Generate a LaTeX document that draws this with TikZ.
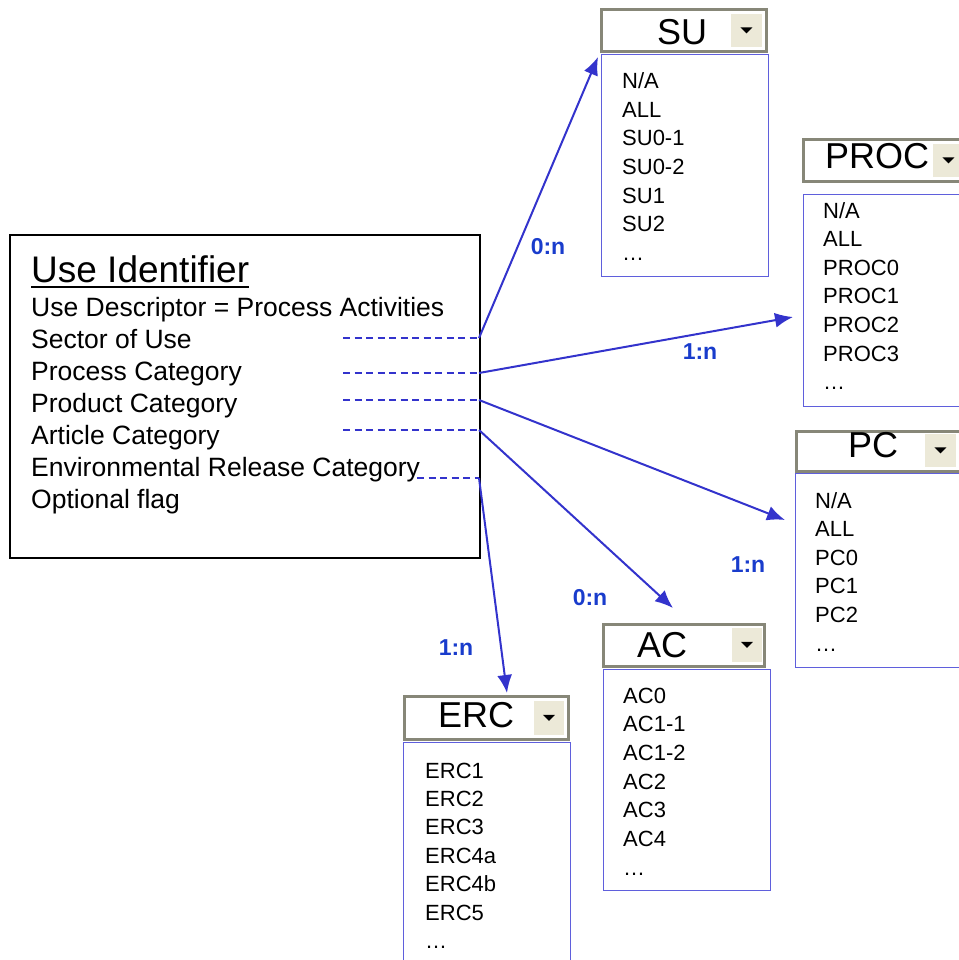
\documentclass[tikz,border=0pt]{standalone}
\usepackage{fontspec}
\setmainfont{Liberation Sans}
\usetikzlibrary{arrows.meta}
\definecolor{arrblue}{RGB}{51,51,204}
\definecolor{lblblue}{RGB}{25,60,204}
\definecolor{listblue}{RGB}{95,95,220}
\definecolor{hdrgray}{RGB}{135,135,120}
\definecolor{btnfill}{RGB}{236,233,216}
\begin{document}
\begin{tikzpicture}[x=1pt,y=-1pt,
  mainbox/.style={draw=black,line width=1.6pt,anchor=north west,inner sep=0},
  listbox/.style={draw=listblue,line width=1.2pt,fill=white,anchor=north west,inner sep=0},
  hdrbox/.style={draw=hdrgray,line width=3pt,fill=white,anchor=north west,inner sep=0},
  btnbox/.style={draw=white,line width=0.8pt,fill=btnfill,anchor=north west,inner sep=0},
  itemtxt/.style={font=\fontsize{22}{26}\selectfont,anchor=base west,inner sep=0},
  hdrtxt/.style={font=\fontsize{36}{40}\selectfont,anchor=base,inner sep=0},
  rowtxt/.style={font=\fontsize{26.5}{30}\selectfont,anchor=base west,inner sep=0},
  titletxt/.style={font=\fontsize{37}{42}\selectfont,anchor=base west,inner sep=0},
  card/.style={font=\bfseries\fontsize{23}{26}\selectfont,text=lblblue,inner sep=0},
  conn/.style={draw=arrblue,line width=2pt,-{Latex[length=18pt,width=15pt]}},
  dashlink/.style={draw=arrblue,line width=1.5pt,dash pattern=on 7pt off 4.5pt}
]
\useasboundingbox (0,0) rectangle (958,960);

% main box
\node[mainbox,minimum width=470pt,minimum height=323pt] (main) at (9,234) {};
\node[titletxt] (title) at (31,282) {Use Identifier};
\draw[line width=2pt] ([yshift=-5pt]title.base west) -- ([yshift=-5pt]title.base east);
\node[rowtxt] (r1) at (31,316) {Use Descriptor = Process Activities};
\node[rowtxt] (r2) at (31,348) {Sector of Use};
\node[rowtxt] (r3) at (31,380) {Process Category};
\node[rowtxt] (r4) at (31,412) {Product Category};
\node[rowtxt] (r5) at (31,444) {Article Category};
\node[rowtxt] (r6) at (31,476) {Environmental Release Category};
\node[rowtxt] (r7) at (31,508) {Optional flag};

% dashed link coordinates
\coordinate (d2s) at (343,338); \coordinate (d2e) at (479,338);
\coordinate (d3s) at (343,373); \coordinate (d3e) at (479,373);
\coordinate (d4s) at (343,400); \coordinate (d4e) at (479,400);
\coordinate (d5s) at (343,430); \coordinate (d5e) at (479,430);
\coordinate (d6s) at (417,478); \coordinate (d6e) at (479,478);
\foreach \k in {2,...,6} {\draw[dashlink] (d\k s) -- (d\k e);}

% SU dropdown
\node[listbox,minimum width=167pt,minimum height=222pt] (sulist) at (601,54) {};
\node[hdrbox,minimum width=165pt,minimum height=42pt] (suhdr) at (600,8) {};
\node[btnbox,minimum width=32pt,minimum height=34pt] (subtn) at (730,13) {};
\fill (subtn.center) ++(-6,-3) -- ++(12,0) -- ++(-6,6) -- cycle;
\node[hdrtxt] (sutxt) at (682,45) {SU};
\foreach \t [count=\i from 0] in {N/A,ALL,SU0-1,SU0-2,SU1,SU2,…}
  \node[itemtxt] (su\i) at (622,{89+28.5*\i}) {\t};

% PROC dropdown
\node[listbox,minimum width=167pt,minimum height=212pt] (proclist) at (803,194) {};
\node[hdrbox,minimum width=165pt,minimum height=42pt] (prochdr) at (802,138) {};
\node[btnbox,minimum width=32pt,minimum height=34pt] (procbtn) at (932,143) {};
\fill (procbtn.center) ++(-6,-3) -- ++(12,0) -- ++(-6,6) -- cycle;
\node[hdrtxt] (proctxt) at (877,168) {PROC};
\foreach \t [count=\i from 0] in {N/A,ALL,PROC0,PROC1,PROC2,PROC3,…}
  \node[itemtxt] (proc\i) at (823,{218+28.6*\i}) {\t};

% PC dropdown
\node[listbox,minimum width=167pt,minimum height=194pt] (pclist) at (795,473) {};
\node[hdrbox,minimum width=165pt,minimum height=40pt] (pchdr) at (795,430) {};
\node[btnbox,minimum width=32pt,minimum height=34pt] (pcbtn) at (924,433) {};
\fill (pcbtn.center) ++(-6,-3) -- ++(12,0) -- ++(-6,6) -- cycle;
\node[hdrtxt] (pctxt) at (873,457) {PC};
\foreach \t [count=\i from 0] in {N/A,ALL,PC0,PC1,PC2,…}
  \node[itemtxt] (pc\i) at (815,{508+28.6*\i}) {\t};

% AC dropdown
\node[listbox,minimum width=167pt,minimum height=221pt] (aclist) at (603,669) {};
\node[hdrbox,minimum width=161pt,minimum height=42pt] (achdr) at (602,623) {};
\node[btnbox,minimum width=31pt,minimum height=35pt] (acbtn) at (731,627) {};
\fill (acbtn.center) ++(-6,-3) -- ++(12,0) -- ++(-6,6) -- cycle;
\node[hdrtxt] (actxt) at (662,657) {AC};
\foreach \t [count=\i from 0] in {AC0,AC1-1,AC1-2,AC2,AC3,AC4,…}
  \node[itemtxt] (ac\i) at (623,{703+28.7*\i}) {\t};

% ERC dropdown
\node[listbox,minimum width=167pt,minimum height=233pt] (erclist) at (403,742) {};
\node[hdrbox,minimum width=164pt,minimum height=43pt] (erchdr) at (403,695) {};
\node[btnbox,minimum width=31pt,minimum height=35pt] (ercbtn) at (533,700) {};
\fill (ercbtn.center) ++(-6,-3) -- ++(12,0) -- ++(-6,6) -- cycle;
\node[hdrtxt] (erctxt) at (476,727) {ERC};
\foreach \t [count=\i from 0] in {ERC1,ERC2,ERC3,ERC4a,ERC4b,ERC5,…}
  \node[itemtxt] (erc\i) at (425,{778+28.4*\i}) {\t};

% arrow tips
\coordinate (sutip) at (598,57);
\coordinate (proctip) at (793,317);
\coordinate (pctip) at (785,520);
\coordinate (actip) at (673,608);
\coordinate (erctip) at (507,693);

\draw[conn] (d2e) -- (sutip);
\draw[conn] (d3e) -- (proctip);
\draw[conn] (d4e) -- (pctip);
\draw[conn] (d5e) -- (actip);
\draw[conn] (d6e) -- (erctip);

% cardinality labels
\node[card] (c1) at (548,247) {0:n};
\node[card] (c2) at (700,352) {1:n};
\node[card] (c3) at (748,565) {1:n};
\node[card] (c4) at (590,598) {0:n};
\node[card] (c5) at (456,648) {1:n};
\end{tikzpicture}
\end{document}
